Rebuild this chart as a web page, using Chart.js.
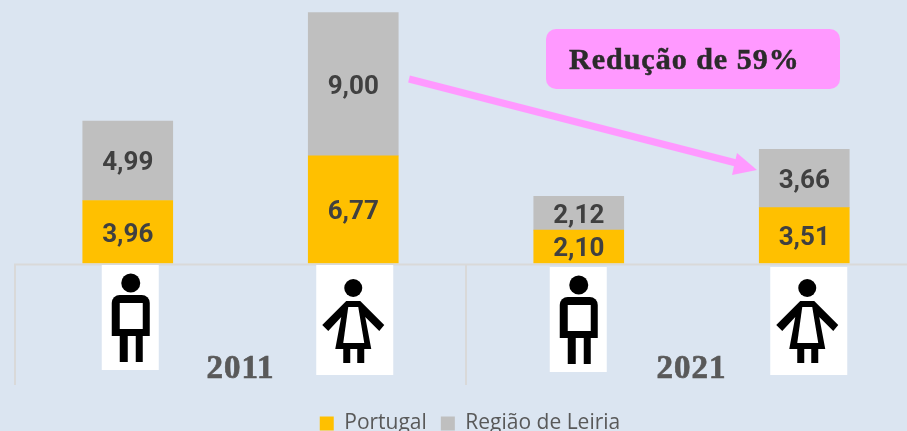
<!DOCTYPE html>
<html><head><meta charset="utf-8">
<style>html,body{margin:0;padding:0;width:907px;height:431px;overflow:hidden;background:#DBE5F1}
#w{position:relative;width:907px;height:431px;overflow:hidden}canvas{display:block}</style>
<script src="https://cdn.jsdelivr.net/npm/chart.js@4"></script></head>
<body><div id="w"><canvas id="c" width="940" height="444" style="width:940px;height:444px"></canvas></div>
<script>
const categories = ['H 2011','M 2011','H 2021','M 2021'];
const portugal = [3.96,6.77,2.10,3.51];
const leiria = [4.99,9.00,2.12,3.66];
const years = ['2011','2021'];
const seriesNames = ['Portugal','Região de Leiria'];
const callout = 'Redução de 59%';
const slab = '"Liberation Serif"';

function man(ctx,x,y){
  ctx.fillStyle='#fff';ctx.fillRect(x,y,57,105);
  ctx.fillStyle='#000';
  ctx.beginPath();ctx.arc(x+29,y+18,9.5,0,7);ctx.fill();
  ctx.beginPath();ctx.roundRect(x+10,y+30,38,41,[8,8,0,0]);ctx.fill();
  ctx.fillStyle='#fff';ctx.fillRect(x+18,y+38,23,26);
  ctx.fillStyle='#000';
  ctx.fillRect(x+18,y+70,8,27);ctx.fillRect(x+34,y+70,7,27);
}
function woman(ctx,x,y,top){
  ctx.fillStyle='#fff';ctx.fillRect(x,top,77,y+110-top);
  ctx.fillStyle='#000';
  ctx.beginPath();ctx.arc(x+37,y+23,9,0,7);ctx.fill();
  ctx.beginPath();
  ctx.moveTo(x+30,y+36);ctx.lineTo(x+44,y+36);ctx.lineTo(x+68,y+60);ctx.lineTo(x+63,y+66);
  ctx.lineTo(x+49,y+52);ctx.lineTo(x+55,y+84);ctx.lineTo(x+19,y+84);ctx.lineTo(x+25,y+52);
  ctx.lineTo(x+12,y+66);ctx.lineTo(x+6,y+60);ctx.closePath();ctx.fill();
  ctx.fillStyle='#fff';
  ctx.beginPath();ctx.moveTo(x+32,y+42);ctx.lineTo(x+42,y+42);ctx.lineTo(x+48,y+78);ctx.lineTo(x+27,y+78);ctx.closePath();ctx.fill();
  ctx.fillStyle='#000';
  ctx.fillRect(x+27,y+84,7,14);ctx.fillRect(x+41,y+84,7,14);
}
const deco = {
  id:'deco',
  afterLayout(chart){ chart.legend.left+=4; chart.legend.right+=4; },
  afterDraw(chart){
    const ctx=chart.ctx, xs=chart.scales.x, base=chart.scales.y.getPixelForValue(0);
    ctx.save();
    ctx.strokeStyle='#D9D9D9';ctx.lineWidth=2;
    const left=xs.left, mid=xs.getPixelForValue(1.5), right=xs.right;
    ctx.beginPath();
    ctx.moveTo(left,base+1);ctx.lineTo(right,base+1);
    ctx.moveTo(left,base);ctx.lineTo(left,385);
    ctx.moveTo(mid,base);ctx.lineTo(mid,385);
    ctx.stroke();
    ctx.textAlign='center';ctx.textBaseline='middle';
    ctx.font='bold 26px Roboto';ctx.fillStyle='#404040';
    chart.data.datasets.forEach((d,i)=>{
      chart.getDatasetMeta(i).data.forEach((b,j)=>{
        const p=b.getProps(['x','y','base'],true);
        ctx.fillText(d.data[j].toFixed(2).replace('.',','),p.x,(p.y+p.base)/2+3);
      });
    });
    const c=j=>xs.getPixelForValue(j);
    man(ctx,c(0)-26,265);woman(ctx,c(1)-37,265,265);
    man(ctx,c(2)-29,267);woman(ctx,c(3)-34,265,267);
    ctx.letterSpacing='1px';
    ctx.font='bold 33px '+slab;ctx.fillStyle=ctx.strokeStyle='#595959';ctx.lineWidth=0.7;
    years.forEach((y,i)=>{const px=c(i*2+0.5);ctx.fillText(y,px,369);ctx.strokeText(y,px,369);});
    ctx.letterSpacing='0px';
    ctx.strokeStyle=ctx.fillStyle='#FF99FF';ctx.lineWidth=7;
    ctx.beginPath();ctx.moveTo(409,79);ctx.lineTo(740,164);ctx.stroke();
    ctx.beginPath();ctx.moveTo(757,170);ctx.lineTo(737,153);ctx.lineTo(732,175);ctx.closePath();ctx.fill();
    ctx.beginPath();ctx.roundRect(546,29,294,60,10);ctx.fill();
    ctx.letterSpacing='1px';
    ctx.textAlign='left';ctx.font='bold 30px '+slab;ctx.fillStyle=ctx.strokeStyle='#2B2B2B';ctx.lineWidth=0.5;
    ctx.fillText(callout,569,61);ctx.strokeText(callout,569,61);
    ctx.restore();
  }
};
new Chart(document.getElementById('c'),{
  type:'bar',
  data:{labels:categories,datasets:[
    {label:seriesNames[0],data:portugal,backgroundColor:'#FFC000',barThickness:90,stack:'a'},
    {label:seriesNames[1],data:leiria,backgroundColor:'#BFBFBF',barThickness:90,stack:'a'}
  ]},
  options:{
    responsive:false,animation:false,
    layout:{padding:{left:15,right:23,top:9,bottom:0}},
    scales:{
      x:{stacked:true,grid:{display:false},border:{display:false},ticks:{display:false},
         afterFit(s){s.height=135.5;}},
      y:{stacked:true,display:false,min:0,max:16}
    },
    plugins:{
      tooltip:{enabled:false},
      legend:{position:'bottom',labels:{boxWidth:14,boxHeight:14,color:'#595959',padding:14,font:{family:'"Open Sans"',size:21}}}
    }
  },
  plugins:[deco]
});
</script></body></html>
